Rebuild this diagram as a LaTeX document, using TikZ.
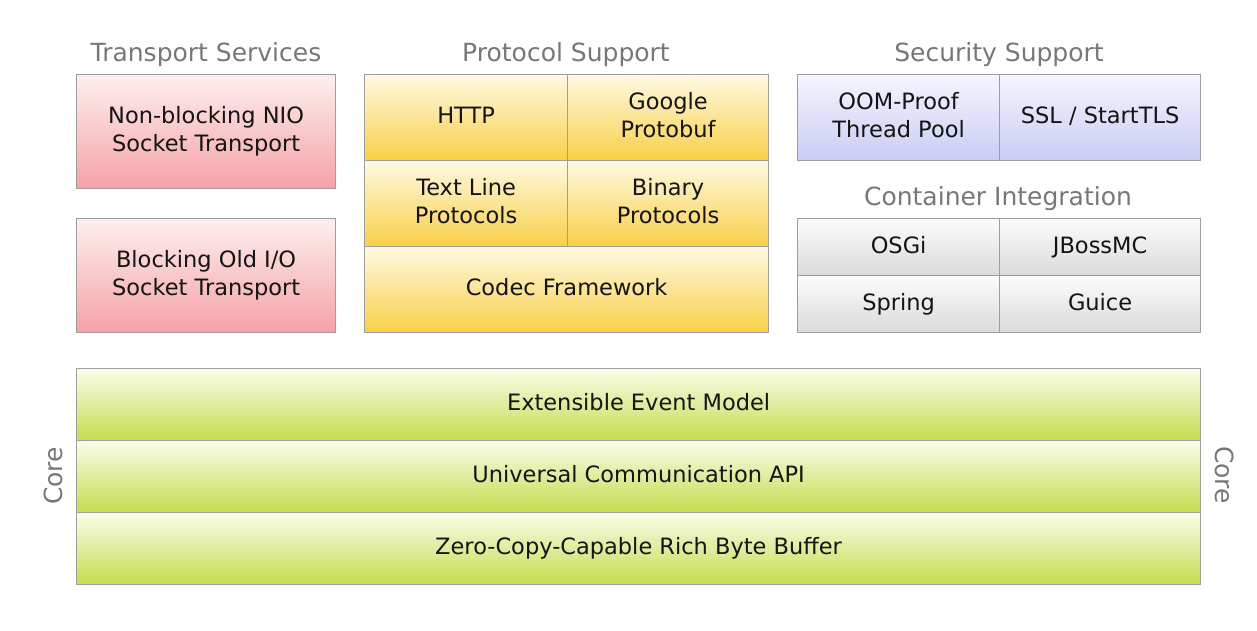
\documentclass[tikz,border=0pt]{standalone}
\usepackage{fontspec}
\setmainfont{DejaVu Sans}
\usetikzlibrary{positioning}

\definecolor{pinktop}{HTML}{FDEFEF}
\definecolor{pinkbot}{HTML}{F5A2A6}
\definecolor{yeltop}{HTML}{FFF9E2}
\definecolor{yelbot}{HTML}{F9D046}
\definecolor{bluetop}{HTML}{F5F5FE}
\definecolor{bluebot}{HTML}{CACCF4}
\definecolor{greytop}{HTML}{FCFCFC}
\definecolor{greybot}{HTML}{DADADA}
\definecolor{greentop}{HTML}{FAFCEA}
\definecolor{greenbot}{HTML}{C4DD4C}
\definecolor{titlegrey}{HTML}{777777}

\newcommand\boxstrut{\rule[-6pt]{0pt}{24pt}}

\tikzset{
  block/.style={draw=black!38, line width=1.2pt, anchor=north west, inner sep=0pt,
    align=center, text=black!92, font=\fontsize{22.5}{28}\selectfont,
    execute at begin node=\boxstrut, execute at end node=\boxstrut},
  transport/.style={block, top color=pinktop, bottom color=pinkbot},
  protocol/.style={block, top color=yeltop, bottom color=yelbot},
  security/.style={block, top color=bluetop, bottom color=bluebot},
  container/.style={block, top color=greytop, bottom color=greybot},
  core/.style={block, top color=greentop, bottom color=greenbot,
    minimum width=1124pt, minimum height=72pt},
  grouptitle/.style={anchor=base, text=titlegrey, font=\fontsize{25}{28}\selectfont},
}

\begin{document}
\begin{tikzpicture}[x=1pt,y=-1pt]
  \useasboundingbox (0,0) rectangle (1257,631);

  % transport services
  \node[transport, minimum width=259pt, minimum height=114pt] (nio) at (76,74)
    {Non-blocking NIO\\Socket Transport};
  \node[transport, minimum width=259pt, minimum height=114pt] (oio) at (76,218)
    {Blocking Old I/O\\Socket Transport};
  \node[grouptitle] (transtitle) at (206,62) {Transport Services};

  % protocol support
  \node[protocol, minimum width=203pt, minimum height=86pt] (http) at (364,74) {HTTP};
  \node[protocol, minimum width=201pt, minimum height=86pt] (protobuf) at (567,74)
    {Google\\Protobuf};
  \node[protocol, minimum width=203pt, minimum height=86pt] (textline) at (364,160)
    {Text Line\\Protocols};
  \node[protocol, minimum width=201pt, minimum height=86pt] (binary) at (567,160)
    {Binary\\Protocols};
  \node[protocol, minimum width=404pt, minimum height=86pt] (codec) at (364,246)
    {Codec Framework};
  \node[grouptitle] (prototitle) at (566,62) {Protocol Support};

  % security support
  \node[security, minimum width=202pt, minimum height=86pt] (oom) at (797,74)
    {OOM-Proof\\Thread Pool};
  \node[security, minimum width=201pt, minimum height=86pt] (ssl) at (999,74)
    {SSL / StartTLS};
  \node[grouptitle] (sectitle) at (999,62) {Security Support};

  % container integration
  \node[container, minimum width=202pt, minimum height=57pt] (osgi) at (797,218) {OSGi};
  \node[container, minimum width=201pt, minimum height=57pt] (jboss) at (999,218) {JBossMC};
  \node[container, minimum width=202pt, minimum height=57pt] (spring) at (797,275) {Spring};
  \node[container, minimum width=201pt, minimum height=57pt] (guice) at (999,275) {Guice};
  \node[grouptitle] (conttitle) at (998,205) {Container Integration};

  % core
  \node[core] (event) at (76,368) {Extensible Event Model};
  \node[core] (api) at (76,440) {Universal Communication API};
  \node[core] (buffer) at (76,512) {Zero-Copy-Capable Rich Byte Buffer};
  \node[text=titlegrey, font=\fontsize{25}{28}\selectfont, rotate=90] (coreleft) at (53,476) {Core};
  \node[text=titlegrey, font=\fontsize{25}{28}\selectfont, rotate=-90] (coreright) at (1225,475) {Core};
\end{tikzpicture}
\end{document}
